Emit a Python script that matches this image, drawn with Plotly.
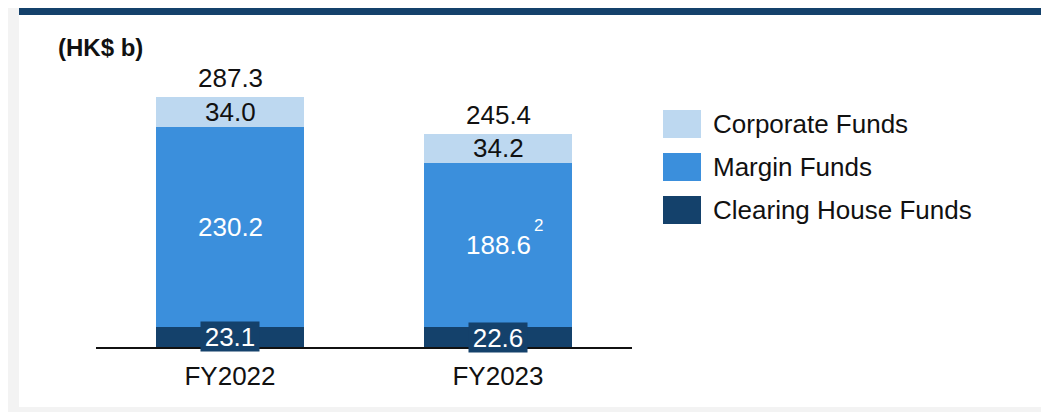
import plotly.graph_objects as go

# data (HK$ b)
years = ["FY2022", "FY2023"]
clearing_house = [23.1, 22.6]
margin_funds = [230.2, 188.6]
corporate_funds = [34.0, 34.2]
totals = [287.3, 245.4]
margin_notes = ["", "2"]

series_names = ["Clearing House Funds", "Margin Funds", "Corporate Funds"]
colors = {"Clearing House Funds": "#14416b",
          "Margin Funds": "#3b8fdc",
          "Corporate Funds": "#bdd8f0"}

FONT = "Liberation Sans, Arial, sans-serif"
OFF = 8  # page body margin
W, H = 1049 - OFF, 412 - OFF
ML, MR, MT, MB = 88, 417, 52, 65


def px_x(p):
    # p: pixel in the screenshot
    return (p - OFF - ML) / (W - ML - MR)


def px_y(p):
    return (H - MB - (p - OFF)) / (H - MT - MB)


fig = go.Figure()

for name, vals in zip(series_names, [clearing_house, margin_funds, corporate_funds]):
    fig.add_trace(go.Bar(
        x=years,
        y=vals,
        name=name,
        width=0.552,
        marker=dict(color=colors[name], line=dict(width=0)),
        showlegend=False,
        hoverinfo="skip",
    ))

annotations = []
for i, yr in enumerate(years):
    c, m, k = clearing_house[i], margin_funds[i], corporate_funds[i]
    # clearing house label with dark box
    annotations.append(dict(
        x=yr, y=c / 2, xref="x", yref="y", text=f"{c:.1f}", showarrow=False,
        font=dict(family=FONT, size=26, color="white"),
        bgcolor=colors["Clearing House Funds"], width=58, height=29, borderpad=0,
    ))
    annotations.append(dict(
        x=yr, y=c + m / 2, xref="x", yref="y", text=f"{m:.1f}", showarrow=False,
        font=dict(family=FONT, size=26, color="white"),
    ))
    if margin_notes[i]:
        annotations.append(dict(
            x=yr, y=c + m / 2, xref="x", yref="y", text=margin_notes[i], showarrow=False,
            xshift=40, yshift=20,
            font=dict(family=FONT, size=17, color="white"),
        ))
    annotations.append(dict(
        x=yr, y=c + m + k / 2, xref="x", yref="y", text=f"{k:.1f}", showarrow=False,
        font=dict(family=FONT, size=26, color="#111111"),
    ))
    annotations.append(dict(
        x=yr, y=totals[i], xref="x", yref="y", text=f"{totals[i]:.1f}", showarrow=False,
        yshift=19, font=dict(family=FONT, size=26, color="#111111"),
    ))

annotations.append(dict(
    x=px_x(100), y=px_y(48), xref="paper", yref="paper", text="<b>(HK$ b)</b>",
    showarrow=False, xanchor="center", yanchor="middle",
    font=dict(family=FONT, size=24, color="#111111"),
))

shapes = [
    # white panel
    dict(type="rect", xref="paper", yref="paper", layer="below",
         x0=px_x(19), x1=px_x(1049 + 5), y0=px_y(407), y1=px_y(-5),
         fillcolor="white", line=dict(width=0)),
    # top band (the page margin keeps it off the very top edge)
    dict(type="rect", xref="paper", yref="paper", layer="above",
         x0=px_x(19), x1=px_x(1049 + 5), y0=px_y(OFF + 7), y1=px_y(OFF - 5),
         fillcolor="#14416b", line=dict(width=0)),
]

# legend drawn by hand to get the wide swatches
legend_order = ["Corporate Funds", "Margin Funds", "Clearing House Funds"]
for j, name in enumerate(legend_order):
    cy = 124 + 43 * j
    shapes.append(dict(type="rect", xref="paper", yref="paper",
                       x0=px_x(663), x1=px_x(701), y0=px_y(cy + 14), y1=px_y(cy - 14),
                       fillcolor=colors[name], line=dict(width=0)))
    annotations.append(dict(
        x=px_x(711), y=px_y(cy), xref="paper", yref="paper", text=name,
        showarrow=False, xanchor="left", yanchor="middle",
        font=dict(family=FONT, size=26, color="#111111"),
    ))

fig.update_layout(
    width=W, height=H,
    margin=dict(l=ML, r=MR, t=MT, b=MB, pad=0),
    barmode="stack",
    paper_bgcolor="#f3f3f3",
    plot_bgcolor="rgba(0,0,0,0)",
    showlegend=False,
    annotations=annotations,
    shapes=shapes,
    xaxis=dict(
        range=[-0.5, 1.5], showgrid=False, zeroline=False,
        showline=True, linecolor="#111111", linewidth=2,
        ticks="", ticklabelstandoff=5,
        tickfont=dict(family=FONT, size=26, color="#111111"),
        fixedrange=True,
    ),
    yaxis=dict(
        range=[0, 330], showgrid=False, zeroline=False, showline=False,
        showticklabels=False, ticks="", fixedrange=True,
    ),
)

fig.write_html("out.html")
